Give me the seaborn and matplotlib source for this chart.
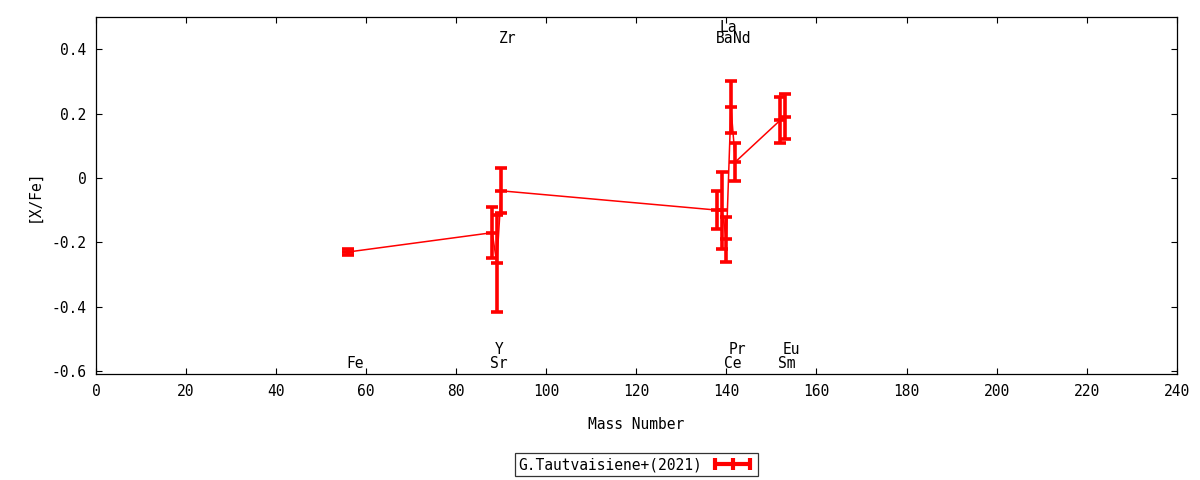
import matplotlib
matplotlib.use("Agg")
import matplotlib.pyplot as plt
from matplotlib.lines import Line2D
from matplotlib.ticker import FixedLocator, FormatStrFormatter
import seaborn as sns
import pandas as pd

# ---- data ----
elements = ["Fe", "Sr", "Y", "Zr", "Ba", "La", "Ce", "Pr", "Nd", "Sm", "Eu"]
mass = [56, 88, 89, 90, 138, 139, 140, 141, 142, 152, 153]
xfe = [-0.23, -0.17, -0.265, -0.04, -0.10, -0.10, -0.19, 0.22, 0.05, 0.18, 0.19]
err = [0.01, 0.08, 0.15, 0.07, 0.06, 0.12, 0.07, 0.08, 0.06, 0.07, 0.07]
series_label = "G.Tautvaisiene+(2021)"
label_row = ["b0", "b0", "b1", "t0", "t0", "t1", "b0", "b1", "t0", "b0", "b1"]
xticks = list(range(0, 241, 20))
yticks = [-0.6, -0.4, -0.2, 0, 0.2, 0.4]

df = pd.DataFrame({"mass": mass, "xfe": xfe, "err": err, "el": elements})

sns.set_style("ticks")
plt.rcParams["font.family"] = ["DejaVu Sans Mono", "DejaVu Sans"]
plt.rcParams["font.size"] = 10
plt.rcParams["text.color"] = "black"
plt.rcParams["axes.labelcolor"] = "black"
plt.rcParams["xtick.color"] = "black"
plt.rcParams["ytick.color"] = "black"

fig = plt.figure(figsize=(12, 4.8), dpi=100)
ax = fig.add_axes([0.08, 0.2202, 0.9006, 0.7444])

sns.lineplot(data=df, x="mass", y="xfe", sort=False, estimator=None,
             color="red", linewidth=1.1, ax=ax, legend=False)
ax.errorbar(df["mass"], df["xfe"], yerr=df["err"], fmt="none",
            ecolor="red", elinewidth=2.6, capsize=4, capthick=2.6)
ax.plot(df["mass"], df["xfe"], linestyle="none", marker="_", color="red",
        markersize=8, markeredgewidth=2.6)

ax.set_xlim(0, 240)
ax.set_ylim(-0.61, 0.5)
ax.xaxis.set_major_locator(FixedLocator(xticks))
ax.yaxis.set_major_locator(FixedLocator(yticks))
ax.xaxis.set_major_formatter(FormatStrFormatter("%g"))
ax.yaxis.set_major_formatter(FormatStrFormatter("%g"))
ax.tick_params(direction="in", length=4, width=0.8, top=True, right=True,
               labelsize=10.5, pad=7, color="black", labelcolor="black")
for s in ax.spines.values():
    s.set_visible(True)
    s.set_linewidth(0.9)
    s.set_color("black")

ax.set_xlabel("Mass Number", fontsize=10.5, labelpad=13, color="black")
ax.set_ylabel("[X/Fe]", fontsize=10.5, labelpad=7, color="black")

row_y = {"b0": -0.575, "b1": -0.532, "t0": 0.434, "t1": 0.468}
for el, m, r in zip(elements, mass, label_row):
    ax.annotate(el, (m, row_y[r]), xytext=(-2, 0), textcoords="offset pixels",
                ha="left", va="center", fontsize=10.5, color="black")

handle = Line2D([], [], color="red", linewidth=3, marker="|", markersize=9,
                markeredgewidth=3)
leg = fig.legend([handle], [series_label], loc="center",
                 bbox_to_anchor=(0.5304, 0.032), frameon=True, fancybox=False,
                 markerfirst=False, numpoints=3, handlelength=3.0,
                 fontsize=10.5, borderpad=0.25, handletextpad=0.6,
                 borderaxespad=0)
leg.get_frame().set_edgecolor("black")
leg.get_frame().set_linewidth(0.9)
for t in leg.get_texts():
    t.set_color("black")

fig.savefig("out.png", dpi=100)
